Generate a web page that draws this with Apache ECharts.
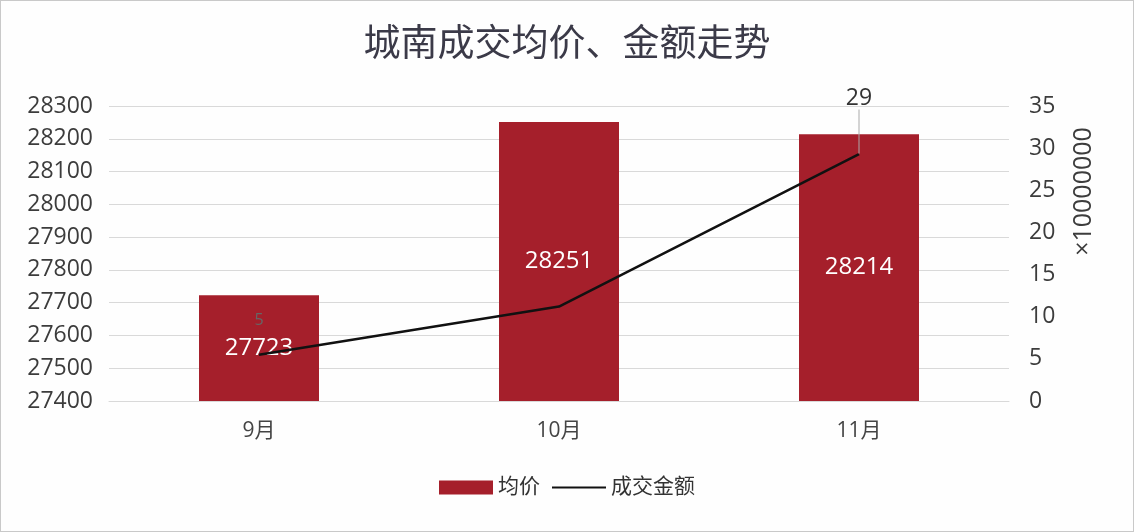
<!DOCTYPE html>
<html>
<head>
<meta charset="utf-8">
<script src="https://cdn.jsdelivr.net/npm/echarts@6/dist/echarts.min.js"></script>
<style>
html,body{margin:0;padding:0;background:#fff;}
#main{width:1134px;height:532px;box-sizing:border-box;border:1px solid #c9c9c9;background:#fefefe;}
</style>
</head>
<body>
<div id="main"></div>
<script>
var categories = ['9月', '10月', '11月'];
var avgPrice = [27723, 28251, 28214];
var dealAmount = [5.5, 11.2, 29.3];
var amountLabels = ['5', '', '29'];
var leftTicks = [27400, 28300, 100];
var rightTicks = [0, 35, 5];

var chart = echarts.init(document.getElementById('main'));
var FONT = '"Open Sans","Noto Sans CJK SC",sans-serif';
chart.setOption({
  backgroundColor: '#fefefe',
  textStyle: { fontFamily: FONT },
  title: {
    text: '城南成交均价、金额走势',
    left: 'center',
    top: 21,
    textStyle: { fontSize: 37, fontWeight: 'normal', color: '#3b3a48', fontFamily: FONT }
  },
  legend: {
    bottom: 28,
    left: 'center',
    itemGap: 12,
    textStyle: { fontSize: 21, color: '#333' },
    data: [
      { name: '均价', icon: 'rect', itemStyle: { color: '#a51f2b' } },
      { name: '成交金额', icon: 'path://M0,0 L60,0 L60,2 L0,2 Z', itemStyle: { color: '#111' } }
    ],
    itemWidth: 54,
    itemHeight: 14
  },
  grid: { left: 108, right: 124, top: 105, bottom: 130 },
  xAxis: {
    type: 'category',
    data: categories,
    axisLine: { show: true, lineStyle: { color: '#d9d9d9' } },
    axisTick: { show: false },
    axisLabel: { fontSize: 21, color: '#444', margin: 20 }
  },
  yAxis: [
    {
      type: 'value',
      min: leftTicks[0], max: leftTicks[1], interval: leftTicks[2],
      axisLine: { show: false },
      axisTick: { show: false },
      axisLabel: { fontSize: 23, color: '#3c3c3c', margin: 16, formatter: function (v) { return String(v); } },
      splitLine: { lineStyle: { color: '#d9d9d9' } }
    },
    {
      type: 'value',
      min: rightTicks[0], max: rightTicks[1], interval: rightTicks[2],
      position: 'right',
      axisLine: { show: false },
      axisTick: { show: false },
      axisLabel: { fontSize: 23, color: '#3c3c3c', margin: 20 },
      splitLine: { show: false },
      name: '×10000000',
      nameLocation: 'middle',
      nameRotate: 90,
      nameGap: 62,
      nameTextStyle: { fontSize: 25, color: '#3c3c3c', padding: [0, 0, 0, 124] }
    }
  ],
  series: [
    {
      name: '均价',
      type: 'bar',
      data: avgPrice,
      barWidth: '40%',
      itemStyle: { color: '#a51f2b' },
      label: { show: true, position: 'inside', color: '#fff', fontSize: 24 },
      z: 2
    },
    {
      name: '成交金额',
      type: 'line',
      yAxisIndex: 1,
      data: dealAmount.map(function (v, i) {
        var item = { value: v };
        if (i === 0) {
          item.label = { show: true, formatter: amountLabels[i], position: 'top', distance: 26, fontSize: 16, color: '#666' };
          item.labelLine = { show: false };
        } else if (i === 2) {
          item.label = { show: true, formatter: amountLabels[i], position: 'top', distance: 6, fontSize: 23, color: '#333' };
          item.labelLine = { show: true, lineStyle: { color: '#aaa', width: 1 } };
        }
        return item;
      }),
      labelLayout: function (params) {
        if (params.dataIndex === 2) { return { dy: -38 }; }
        return {};
      },
      labelLine: { show: false },
      symbol: 'circle',
      symbolSize: 1,
      showSymbol: true,
      itemStyle: { color: 'rgba(0,0,0,0)' },
      lineStyle: { color: '#111', width: 2.5 },
      label: { show: false },
      z: 3
    }
  ]
});
</script>
</body>
</html>
